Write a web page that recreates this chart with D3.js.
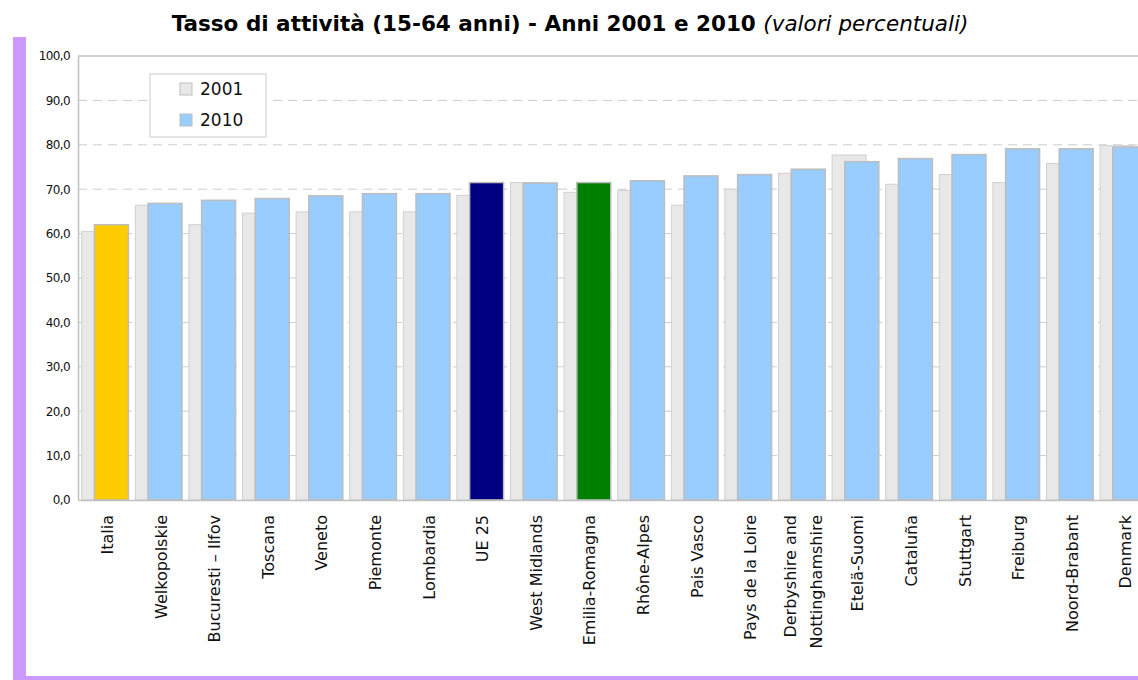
<!DOCTYPE html>
<html>
<head>
<meta charset="utf-8">
<script src="https://cdn.jsdelivr.net/npm/d3@7"></script>
<style>
  html, body { margin: 0; padding: 0; background: #fff; }
  svg { display: block; }
</style>
</head>
<body>
<div id="chart"></div>
<script>
// Data
const categories = [
  'Italia', 'Welkopolskie', 'Bucuresti – Ilfov', 'Toscana', 'Veneto', 'Piemonte',
  'Lombardia', 'UE 25', 'West Midlands', 'Emilia-Romagna', 'Rhône-Alpes', 'Pais Vasco',
  'Pays de la Loire', 'Derbyshire and Nottinghamshire', 'Etelä-Suomi', 'Cataluña',
  'Stuttgart', 'Freiburg', 'Noord-Brabant', 'Denmark'
];
const values2001 = [60.5, 66.4, 62.0, 64.6, 64.9, 64.9, 64.9, 68.6, 71.5, 69.3,
  69.7, 66.4, 70.0, 73.6, 77.7, 71.1, 73.3, 71.5, 75.8, 79.8];
const values2010 = [62.0, 66.8, 67.5, 67.9, 68.5, 69.0, 69.0, 71.5, 71.4, 71.5,
  71.9, 73.0, 73.3, 74.5, 76.2, 76.9, 77.8, 79.1, 79.1, 79.5];
const yTicks = [0, 10, 20, 30, 40, 50, 60, 70, 80, 90, 100];
const seriesNames = ['2001', '2010'];

// highlighted bars in the 2010 series
const highlight = { 'Italia': '#ffcc00', 'UE 25': '#000080', 'Emilia-Romagna': '#008000' };

const W = 1138, H = 680;
const margin = { top: 56, left: 78 };
const plotH = 444;
const plotW = 20 * 53.6;

const svg = d3.select('#chart').append('svg')
  .attr('width', W)
  .attr('height', H)
  .style('font-family', '"DejaVu Sans", Verdana, sans-serif');

// purple frame
svg.append('rect').attr('x', 13).attr('y', 37).attr('width', 13).attr('height', H - 37).attr('fill', '#cc99ff');
svg.append('rect').attr('x', 13).attr('y', 676).attr('width', W - 13).attr('height', 4).attr('fill', '#cc99ff');

// title
const title = svg.append('text')
  .attr('x', 570)
  .attr('y', 31)
  .attr('text-anchor', 'middle')
  .style('font-family', '"DejaVu Sans", sans-serif')
  .style('font-size', '21.5px');
title.append('tspan').style('font-weight', 'bold').text('Tasso di attività (15-64 anni) - Anni 2001 e 2010 ');
title.append('tspan').style('font-style', 'italic').text('(valori percentuali)');

const g = svg.append('g').attr('transform', `translate(${margin.left},${margin.top})`);

const x = d3.scaleBand().domain(categories).range([0, plotW]).padding(0);
const y = d3.scaleLinear().domain([0, 100]).range([plotH, 0]);

// dashed gridlines
g.append('g').selectAll('line')
  .data(yTicks.filter(d => d > 0 && d < 100))
  .join('line')
  .attr('x1', 0).attr('x2', plotW)
  .attr('y1', d => y(d)).attr('y2', d => y(d))
  .attr('stroke', '#cccccc')
  .attr('stroke-dasharray', '9,6');

// top border line
g.append('line').attr('x1', 0).attr('x2', plotW).attr('y1', y(100)).attr('y2', y(100))
  .attr('stroke', '#c0c0c0').attr('stroke-width', 1.5);

const barW = 34;
const offset2001 = 3.7, offset2010 = 16.4;

// 2001 bars
g.append('g').selectAll('rect')
  .data(categories)
  .join('rect')
  .attr('x', d => x(d) + offset2001)
  .attr('y', (d, i) => y(values2001[i]))
  .attr('width', barW)
  .attr('height', (d, i) => y(0) - y(values2001[i]))
  .attr('fill', '#e8e8e8')
  .attr('stroke', '#d0d0d0')
  .attr('stroke-width', 1);

// 2010 bars
g.append('g').selectAll('rect')
  .data(categories)
  .join('rect')
  .attr('x', d => x(d) + offset2010)
  .attr('y', (d, i) => y(values2010[i]))
  .attr('width', barW)
  .attr('height', (d, i) => y(0) - y(values2010[i]))
  .attr('fill', d => highlight[d] || '#99ccff')
  .attr('stroke', '#bdbdbd')
  .attr('stroke-width', 1.5);

// y axis
const yAxis = g.append('g')
  .call(d3.axisLeft(y).tickValues(yTicks).tickSize(0).tickPadding(8)
    .tickFormat(d => d3.format('.1f')(d).replace('.', ',')));
yAxis.select('.domain').attr('stroke', '#c0c0c0').attr('stroke-width', 1.5);
yAxis.selectAll('text').style('font-size', '12px').style('letter-spacing', '-0.6px')
  .attr('fill', '#111').style('font-family', '"DejaVu Sans", sans-serif');

// x axis
const xAxis = g.append('g')
  .attr('transform', `translate(0,${plotH})`)
  .call(d3.axisBottom(x).tickSize(0).tickFormat(''));
xAxis.select('.domain').attr('stroke', '#c0c0c0').attr('stroke-width', 1.5);

xAxis.selectAll('.tick').each(function (d) {
  const lines = d === 'Derbyshire and Nottinghamshire' ? ['Derbyshire and', 'Nottinghamshire'] : [d];
  const t = d3.select(this).append('text')
    .attr('transform', 'rotate(-90)')
    .attr('x', -15)
    .attr('y', 2.5)
    .attr('text-anchor', 'end')
    .attr('fill', '#111')
    .style('font-size', '16px')
    .style('font-family', '"DejaVu Sans", sans-serif');
  lines.forEach((ln, k) => {
    t.append('tspan')
      .attr('x', -15)
      .attr('dy', k === 0 ? (lines.length === 1 ? '0.35em' : '-0.5em') : '1.65em')
      .text(ln);
  });
});

// legend
const legend = svg.append('g').attr('transform', 'translate(150,74)');
legend.append('rect').attr('width', 116).attr('height', 63)
  .attr('fill', '#fff').attr('stroke', '#cccccc');
const swatchFill = ['#e8e8e8', '#99ccff'];
seriesNames.forEach((s, i) => {
  legend.append('rect')
    .attr('x', 30).attr('y', 9 + i * 31)
    .attr('width', 12).attr('height', 12)
    .attr('fill', swatchFill[i]).attr('stroke', '#bdbdbd');
  legend.append('text')
    .attr('x', 50).attr('y', 21 + i * 31)
    .style('font-size', '17px')
    .attr('fill', '#111')
    .text(s);
});
</script>
</body>
</html>
